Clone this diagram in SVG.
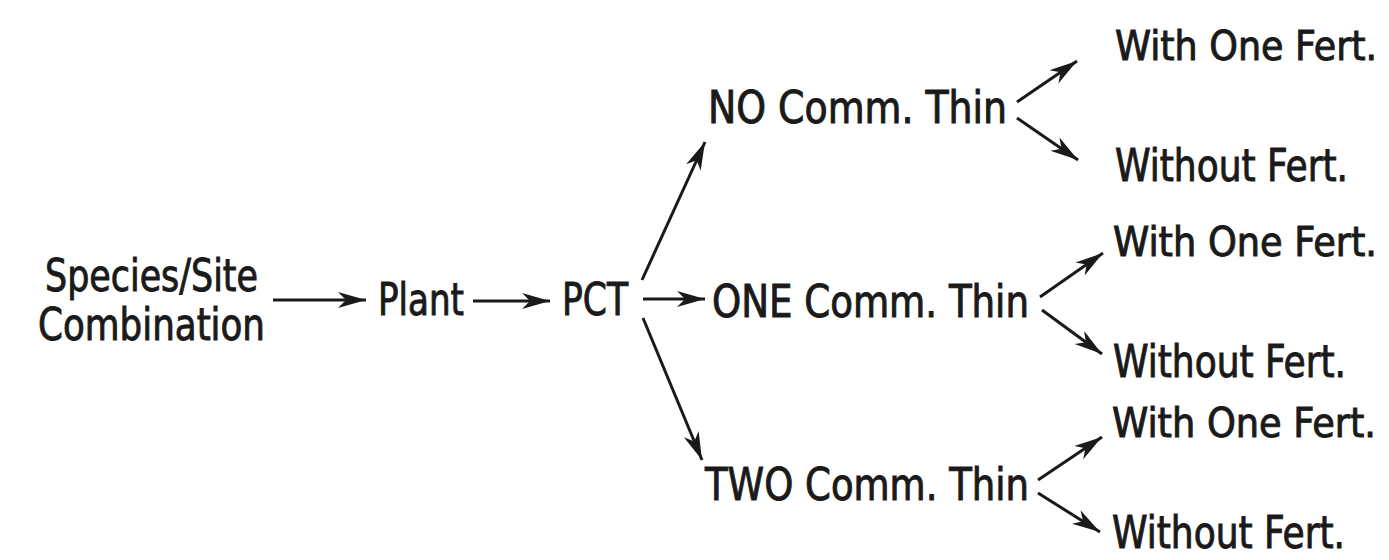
<svg xmlns="http://www.w3.org/2000/svg" width="1389" height="560" viewBox="0 0 1389 560">
  <defs>
    <style>
      .t { font-family: "DejaVu Sans Condensed", "DejaVu Sans", "Liberation Sans", sans-serif; font-size: 44px; fill: #1a1a1a; stroke: #1a1a1a; stroke-width: 0.9px; }
      .w { font-size: 41px; }
      .c { stroke: #1a1a1a; stroke-width: 3; fill: none; marker-end: url(#ah); }
    </style>
    <marker id="ah" markerUnits="userSpaceOnUse" viewBox="-28 -9 30 18" refX="0" refY="0" markerWidth="30" markerHeight="18" orient="auto">
      <path d="M0,0 L-28,-8 L-20,0 L-28,8 Z" fill="#1a1a1a"/>
    </marker>
  </defs>
  <rect width="1389" height="560" fill="#ffffff"/>

  <g id="connectors">
    <line class="c" x1="273" y1="300" x2="366" y2="300"/>
    <line class="c" x1="473" y1="301" x2="550" y2="301"/>
    <line class="c" x1="643" y1="299" x2="705" y2="299"/>
    <line class="c" x1="642" y1="280" x2="705" y2="142"/>
    <line class="c" x1="643" y1="318" x2="702" y2="460"/>
    <line class="c" x1="1017" y1="102" x2="1077" y2="61"/>
    <line class="c" x1="1017" y1="118" x2="1078" y2="160"/>
    <line class="c" x1="1040" y1="297" x2="1103" y2="253"/>
    <line class="c" x1="1042" y1="310" x2="1102" y2="354"/>
    <line class="c" x1="1038" y1="480" x2="1102" y2="437"/>
    <line class="c" x1="1038" y1="493" x2="1100" y2="532"/>
  </g>

  <g id="node-species">
    <text class="t" x="45" y="291" textLength="213" lengthAdjust="spacingAndGlyphs">Species/Site</text>
    <text class="t" x="38" y="340" textLength="227" lengthAdjust="spacingAndGlyphs">Combination</text>
  </g>
  <g id="node-plant">
    <text class="t" x="378" y="315" textLength="86" lengthAdjust="spacingAndGlyphs">Plant</text>
  </g>
  <g id="node-pct">
    <text class="t" x="562" y="315" textLength="66" lengthAdjust="spacingAndGlyphs">PCT</text>
  </g>
  <g id="node-no-thin">
    <text class="t" x="708" y="123" textLength="299" lengthAdjust="spacingAndGlyphs">NO Comm. Thin</text>
  </g>
  <g id="node-one-thin">
    <text class="t" x="712" y="317" textLength="317" lengthAdjust="spacingAndGlyphs">ONE Comm. Thin</text>
  </g>
  <g id="node-two-thin">
    <text class="t" x="705" y="500" textLength="324" lengthAdjust="spacingAndGlyphs">TWO Comm. Thin</text>
  </g>
  <g id="node-no-with">
    <text class="t w" x="1115" y="60" textLength="262" lengthAdjust="spacingAndGlyphs">With One Fert.</text>
  </g>
  <g id="node-no-without">
    <text class="t" x="1115" y="181" textLength="233" lengthAdjust="spacingAndGlyphs">Without Fert.</text>
  </g>
  <g id="node-one-with">
    <text class="t w" x="1113" y="256" textLength="264" lengthAdjust="spacingAndGlyphs">With One Fert.</text>
  </g>
  <g id="node-one-without">
    <text class="t" x="1113" y="377" textLength="233" lengthAdjust="spacingAndGlyphs">Without Fert.</text>
  </g>
  <g id="node-two-with">
    <text class="t w" x="1112" y="437" textLength="264" lengthAdjust="spacingAndGlyphs">With One Fert.</text>
  </g>
  <g id="node-two-without">
    <text class="t" x="1112" y="548" textLength="233" lengthAdjust="spacingAndGlyphs">Without Fert.</text>
  </g>
</svg>
